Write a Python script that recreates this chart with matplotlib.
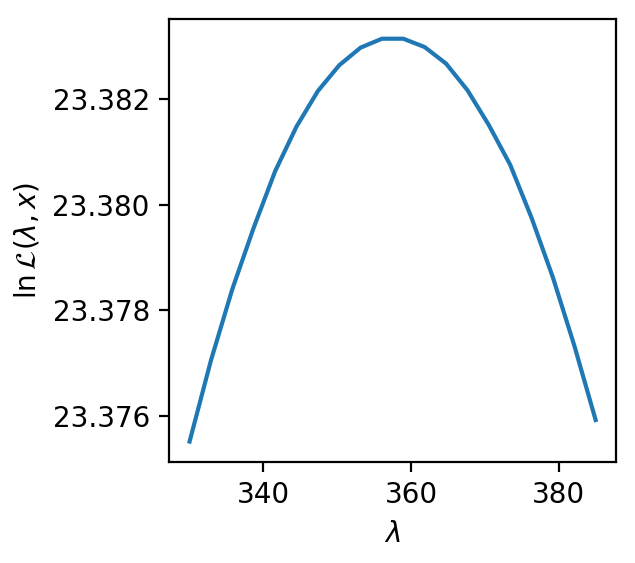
import numpy as np
import matplotlib
matplotlib.use("Agg")
import matplotlib.pyplot as plt

# lambda grid and log-likelihood values
lam = np.linspace(330, 385, 20)
loglik = [23.375516, 23.377053, 23.378403, 23.379565, 23.380631,
          23.381478, 23.382151, 23.382640, 23.382974, 23.383143,
          23.383143, 23.382985, 23.382672, 23.382169, 23.381510,
          23.380757, 23.379753, 23.378623, 23.377335, 23.375923]

fig = plt.figure(figsize=(635 / 200, 563 / 200), dpi=200)
ax = fig.add_axes([0.2666, 0.18, 0.7034, 0.787])
ax.plot(lam, loglik)
ax.set_xlabel(r'$\lambda$')
ax.set_ylabel(r'$\ln\mathcal{L}(\lambda, x)$')
ax.ticklabel_format(axis='y', useOffset=False)

fig.savefig('out.png', dpi=200)
